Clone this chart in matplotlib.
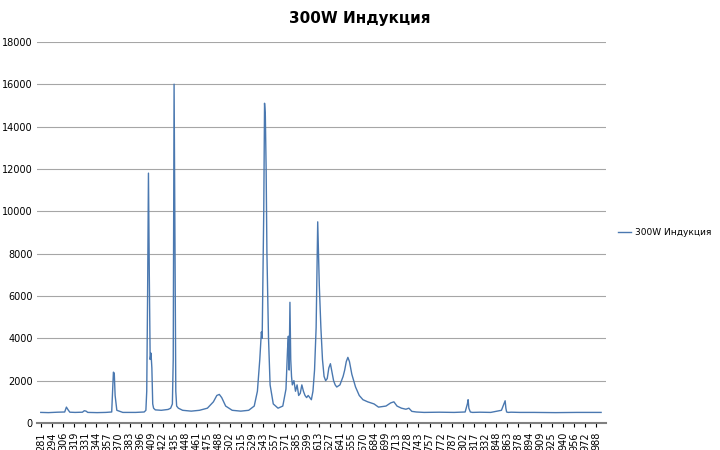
import numpy as np
import matplotlib
matplotlib.use("Agg")
import matplotlib.pyplot as plt

tick_wl = [281,294,306,319,331,344,357,370,383,396,409,422,435,448,461,475,488,502,515,529,
           543,557,571,585,599,613,627,641,655,670,684,699,713,728,743,757,772,787,802,817,
           832,848,863,878,894,909,925,940,956,972,988]

# (wavelength, intensity)
spectrum = [
    (281,500),(290,490),(300,510),(308,520),(310,750),(312,620),(314,510),(320,500),
    (328,510),(330,580),(332,560),(334,500),(345,490),(355,500),(362,520),(363,1500),
    (364,2400),(365,2350),(366,1300),(368,600),(375,500),(390,500),(400,520),(402,600),
    (403,1500),(404,6000),(405,11800),(406,7000),(407,3000),(408,3300),(409,2600),(410,900),
    (411,700),(413,620),(420,600),(428,640),(431,700),(433,900),(434,3000),(435,16000),
    (436,9000),(437,1500),(438,800),(440,700),(445,600),(455,560),(465,600),(475,700),
    (482,1000),(486,1300),(489,1350),(492,1200),(497,800),(505,600),(515,560),(525,600),
    (532,800),(536,1500),(539,3000),(541,4300),(542,4000),(544,10000),(545,15100),(546,14500),
    (547,12000),(548,8000),(550,4000),(552,1800),(556,900),(562,700),(568,800),(572,1600),
    (574,3500),(575,4100),(576,2500),(577,5700),(578,3000),(579,2200),(580,1800),(582,2000),
    (584,1500),(586,1800),(588,1300),(590,1400),(592,1800),(594,1500),(596,1300),(598,1200),
    (600,1300),(602,1200),(604,1100),(606,1500),(608,2500),(610,4500),(611,7000),(612,9500),
    (613,8000),(614,6500),(616,4500),(618,3000),(620,2200),(622,2000),(624,2100),(626,2600),
    (628,2800),(630,2400),(632,2000),(634,1800),(636,1700),(640,1800),(644,2200),(646,2500),
    (648,2900),(650,3100),(652,2900),(655,2300),(660,1700),(665,1300),(670,1100),(676,1000),
    (684,900),(690,750),(700,800),(706,950),(710,1000),(714,800),(720,700),(726,650),
    (730,700),(734,550),(740,520),(750,500),(770,510),(790,500),(805,520),(808,900),
    (809,1100),(810,700),(812,520),(815,500),(825,510),(840,500),(855,600),(860,1050),
    (861,700),(862,520),(864,500),(868,510),(880,500),(900,500),(930,490),(960,500),
    (990,500),(995,500),
]
wl = [p[0] for p in spectrum]
val = [p[1] for p in spectrum]

pos_ticks = np.arange(len(tick_wl))
slope = (pos_ticks[-1] - pos_ticks[-2]) / (tick_wl[-1] - tick_wl[-2])
x = np.interp(wl, tick_wl, pos_ticks)
x = np.where(np.array(wl) > tick_wl[-1], pos_ticks[-1] + (np.array(wl) - tick_wl[-1]) * slope, x)

fig = plt.figure(figsize=(7.2, 4.5), dpi=100)
ax = fig.add_axes([0.052, 0.06, 0.79, 0.847])
ax.plot(x, val, color="#4a78b0", lw=1.0, label="300W Индукция")
ax.set_xlim(-0.3, 50.9)
ax.set_ylim(0, 18000)
ax.set_yticks(range(0, 18001, 2000))
ax.set_xticks(pos_ticks)
ax.set_xticklabels([str(t) for t in tick_wl], rotation=90, fontsize=7)
ax.tick_params(axis='y', labelsize=7, length=0)
ax.tick_params(axis='x', length=3)
ax.grid(axis='y', color="#a6a6a6", lw=0.8)
ax.set_axisbelow(True)
for s in ["top", "right", "left"]:
    ax.spines[s].set_visible(False)
ax.spines["bottom"].set_color("#808080")
ax.spines["bottom"].set_linewidth(1.5)
fig.suptitle("300W Индукция", fontsize=11, fontweight="bold", x=0.5, y=0.975)
ax.legend(loc="center left", bbox_to_anchor=(1.02, 0.5), frameon=False, fontsize=6.5,
          handlelength=1.5, handletextpad=0.4, borderaxespad=0, borderpad=0)
fig.savefig("out.png", dpi=100)
